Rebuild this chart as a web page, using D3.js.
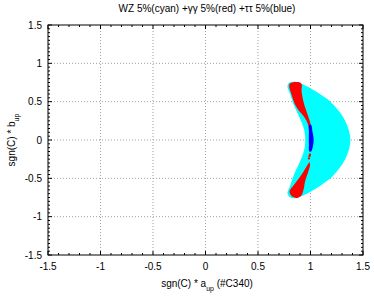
<!DOCTYPE html>
<html>
<head>
<meta charset="utf-8">
<script src="https://cdn.jsdelivr.net/npm/d3@7"></script>
<style>
  body { margin: 0; background: #fff; }
  text { font-family: "Liberation Sans", Arial, sans-serif; fill: #000; }
</style>
</head>
<body>
<div id="chart"></div>
<script>
// Axis ticks
const majorTicks = [-1.5, -1, -0.5, 0, 0.5, 1, 1.5];
const tickLabels = ["-1.5", "-1", "-0.5", "0", "0.5", "1", "1.5"];

// Region outlines, [a_up, b_up]
const cyanWZ = [
  [0.85, 0.76], [0.92, 0.73], [1.02, 0.66], [1.10, 0.59], [1.19, 0.50],
  [1.25, 0.41], [1.31, 0.30], [1.35, 0.19], [1.37, 0.10], [1.38, 0.0],
  [1.37, -0.10], [1.35, -0.19], [1.31, -0.30], [1.25, -0.41], [1.19, -0.50],
  [1.10, -0.59], [1.02, -0.66], [0.92, -0.73], [0.85, -0.76], [0.80, -0.74],
  [0.78, -0.69], [0.80, -0.62], [0.84, -0.46], [0.90, -0.28], [0.94, -0.13],
  [0.95, 0.0], [0.94, 0.13], [0.90, 0.28], [0.84, 0.46], [0.80, 0.62],
  [0.78, 0.70], [0.80, 0.75]
];
const redTop = [
  [0.80, 0.73], [0.82, 0.59], [0.85, 0.47], [0.89, 0.38], [0.94, 0.30],
  [0.975, 0.21], [0.99, 0.12], [1.005, 0.12], [1.0, 0.21], [0.975, 0.32],
  [0.95, 0.42], [0.93, 0.52], [0.915, 0.64], [0.915, 0.73], [0.88, 0.755]
];
const redBottom = [
  [0.99, -0.29], [0.995, -0.33], [0.975, -0.43], [0.95, -0.53], [0.935, -0.64],
  [0.915, -0.72], [0.87, -0.755], [0.82, -0.73], [0.80, -0.67], [0.84, -0.59],
  [0.89, -0.50], [0.93, -0.42], [0.965, -0.34]
];
const redDots = [[0.99, -0.21], [0.985, -0.24], [0.995, -0.19]];
const blueTT = [
  [0.99, 0.20], [1.005, 0.20], [1.02, 0.10], [1.03, 0.0], [1.02, -0.10],
  [1.005, -0.15], [0.99, -0.15], [0.985, -0.05], [0.985, 0.10]
];

const width = 374;
const height = 297;
const mLeft = 48, mRight = 363, mTop = 25, mBottom = 255;

const svg = d3.select("#chart").append("svg")
  .attr("width", width)
  .attr("height", height);

const x = d3.scaleLinear().domain([-1.5, 1.5]).range([mLeft, mRight]);
const y = d3.scaleLinear().domain([-1.5, 1.5]).range([mBottom, mTop]);

// grid
svg.append("g").selectAll("line")
  .data(majorTicks.slice(1, -1))
  .enter().append("line")
  .attr("x1", d => x(d)).attr("x2", d => x(d))
  .attr("y1", mTop).attr("y2", mBottom)
  .attr("stroke", "#a0a0a0").attr("stroke-dasharray", "1,2");
svg.append("g").selectAll("line")
  .data(majorTicks.slice(1, -1))
  .enter().append("line")
  .attr("y1", d => y(d)).attr("y2", d => y(d))
  .attr("x1", mLeft).attr("x2", mRight)
  .attr("stroke", "#a0a0a0").attr("stroke-dasharray", "1,2");

// regions
const line = d3.line().x(d => x(d[0])).y(d => y(d[1])).curve(d3.curveCatmullRomClosed.alpha(0.5));
svg.append("path").attr("d", line(cyanWZ)).attr("fill", "#00ffff");
svg.append("path").attr("d", line(redTop)).attr("fill", "#ff0000");
svg.append("path").attr("d", line(redBottom)).attr("fill", "#ff0000");
svg.selectAll(".dot").data(redDots).enter().append("rect")
  .attr("x", d => x(d[0]) - 1).attr("y", d => y(d[1]) - 1)
  .attr("width", 2).attr("height", 2).attr("fill", "#ff0000");
svg.append("path").attr("d", line(blueTT)).attr("fill", "#0000ff");

// ticks on all four sides
const xMinor = d3.range(-15, 16).map(i => i / 10);
const yMinor = d3.range(-30, 31).map(i => i / 20);
const isMajor = v => Math.abs(v * 2 - Math.round(v * 2)) < 1e-6;
const ticks = svg.append("g").attr("stroke", "#000").attr("stroke-width", 1);
xMinor.forEach(v => {
  const len = isMajor(v) ? 4 : 2;
  ticks.append("line").attr("x1", x(v)).attr("x2", x(v)).attr("y1", mBottom).attr("y2", mBottom - len);
  ticks.append("line").attr("x1", x(v)).attr("x2", x(v)).attr("y1", mTop).attr("y2", mTop + len);
});
yMinor.forEach(v => {
  const len = isMajor(v) ? 4 : 2;
  ticks.append("line").attr("y1", y(v)).attr("y2", y(v)).attr("x1", mLeft).attr("x2", mLeft + len);
  ticks.append("line").attr("y1", y(v)).attr("y2", y(v)).attr("x1", mRight).attr("x2", mRight - len);
});

// frame
svg.append("rect")
  .attr("x", mLeft).attr("y", mTop)
  .attr("width", mRight - mLeft).attr("height", mBottom - mTop)
  .attr("fill", "none").attr("stroke", "#000").attr("stroke-width", 1);

// tick labels
svg.append("g").selectAll("text").data(majorTicks).enter().append("text")
  .attr("x", d => x(d)).attr("y", mBottom + 15)
  .attr("text-anchor", "middle").style("font-size", "10px")
  .text((d, i) => tickLabels[i]);
svg.append("g").selectAll("text").data(majorTicks).enter().append("text")
  .attr("x", mLeft - 6).attr("y", d => y(d) + 3.5)
  .attr("text-anchor", "end").style("font-size", "10px")
  .text((d, i) => tickLabels[i]);

// title and axis labels
svg.append("text").attr("x", 207).attr("y", 12)
  .attr("text-anchor", "middle").style("font-size", "10px")
  .text("WZ 5%(cyan) +γγ 5%(red) +ττ 5%(blue)");

const xl = svg.append("text").attr("x", 207).attr("y", 287)
  .attr("text-anchor", "middle").style("font-size", "10px");
xl.append("tspan").text("sgn(C) * a");
xl.append("tspan").attr("baseline-shift", "sub").style("font-size", "7px").text("up");
xl.append("tspan").text(" (#C340)");

const yl = svg.append("text")
  .attr("transform", `translate(15, ${(mTop + mBottom) / 2}) rotate(-90)`)
  .attr("text-anchor", "middle").style("font-size", "10px");
yl.append("tspan").text("sgn(C) * b");
yl.append("tspan").attr("baseline-shift", "sub").style("font-size", "7px").text("up");
</script>
</body>
</html>
